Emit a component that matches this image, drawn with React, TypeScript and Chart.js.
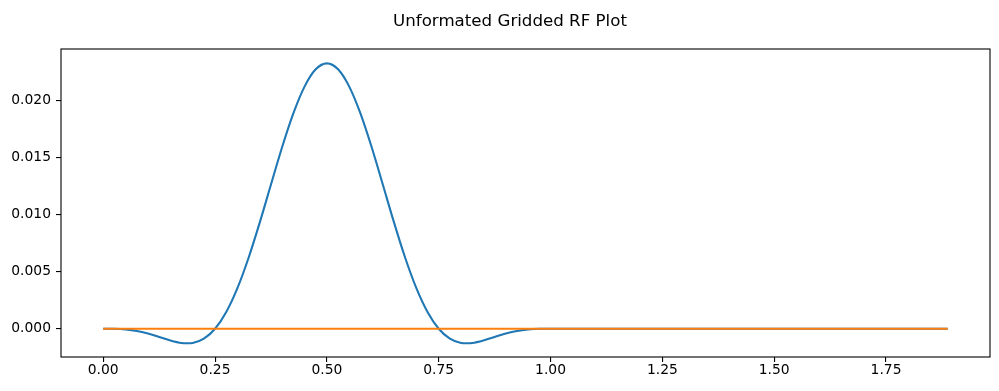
import React, { useEffect, useRef } from "react";
import { Chart, registerables } from "chart.js";

Chart.register(...registerables);

const chartTitle = "Unformated Gridded RF Plot";

// RF pulse (blue) sampled along x
const rfX = [
  0, 0.025, 0.05, 0.075, 0.1, 0.125, 0.15, 0.175, 0.1875, 0.2, 0.225, 0.25, 0.275, 0.3, 0.325, 0.35, 0.375, 0.4,
  0.425, 0.45, 0.475, 0.5, 0.525, 0.55, 0.575, 0.6, 0.625, 0.65, 0.675, 0.7, 0.725, 0.75, 0.775, 0.8, 0.8125,
  0.825, 0.85, 0.875, 0.9, 0.925, 0.95, 0.975, 1.0, 1.25, 1.5, 1.75, 1.888,
];
const rfY = [
  0, -0.000007, -0.000059, -0.000192, -0.000421, -0.000723, -0.001038, -0.001259, -0.00128, -0.001254, -0.000878,
  0, 0.001471, 0.003564, 0.006227, 0.009326, 0.01265, 0.01594, 0.01889, 0.02124, 0.02276, 0.02328,
  0.02276, 0.02124, 0.01889, 0.01594, 0.01265, 0.009326, 0.006227, 0.003564, 0.001471, 0,
  -0.000878, -0.001254, -0.00128, -0.001259, -0.001038, -0.000723, -0.000421, -0.000192, -0.000059, -0.000007, 0,
  0, 0, 0, 0,
];

// Gridded series (orange)
const gridX = [0, 1.888];
const gridY = [0, 0];

const xTicks = [0, 0.25, 0.5, 0.75, 1.0, 1.25, 1.5, 1.75];
const yTicks = [0, 0.005, 0.01, 0.015, 0.02];

const xMin = -0.0944;
const xMax = 1.9824;
const yMin = -0.00248;
const yMax = 0.02454;

const FONT = "'DejaVu Sans', sans-serif";

const framePlugin = {
  id: "frame",
  afterDraw(chart: any) {
    const { ctx, chartArea } = chart;
    ctx.save();
    ctx.strokeStyle = "#000";
    ctx.lineWidth = 1.1;
    ctx.strokeRect(chartArea.left, chartArea.top, chartArea.right - chartArea.left, chartArea.bottom - chartArea.top);
    // figure title (centred on the figure as in the original)
    ctx.fillStyle = "#000";
    ctx.font = `16.67px ${FONT}`;
    ctx.textAlign = "center";
    ctx.textBaseline = "alphabetic";
    ctx.fillText(chartTitle, 510, 26);
    ctx.restore();
  },
};

export default function App() {
  const canvasRef = useRef<HTMLCanvasElement | null>(null);

  useEffect(() => {
    document.body.style.margin = "0";
    const canvas = canvasRef.current;
    if (!canvas) return;
    const chart = new Chart(canvas, {
      type: "scatter",
      data: {
        datasets: [
          {
            label: "gridded",
            data: gridX.map((x, i) => ({ x, y: gridY[i] })),
            showLine: true,
            borderColor: "#ff7f0e",
            borderWidth: 2.08,
            pointRadius: 0,
            order: 0,
          },
          {
            label: "rf",
            data: rfX.map((x, i) => ({ x, y: rfY[i] })),
            showLine: true,
            borderColor: "#1f77b4",
            borderWidth: 2.08,
            pointRadius: 0,
            cubicInterpolationMode: "monotone",
            order: 1,
          },
        ],
      },
      options: {
        animation: false,
        responsive: true,
        maintainAspectRatio: false,
        layout: { padding: { left: 0, right: 9, top: 49, bottom: 0 } },
        plugins: {
          legend: { display: false },
          tooltip: { enabled: false },
          title: { display: false },
        },
        scales: {
          x: {
            type: "linear",
            min: xMin,
            max: xMax,
            afterBuildTicks: (scale: any) => {
              scale.ticks = xTicks.map((v) => ({ value: v }));
            },
            afterFit: (scale: any) => {
              scale.height = 34;
            },
            grid: { display: true, drawOnChartArea: false, drawTicks: true, tickLength: 5, color: "#000", lineWidth: 1.1 },
            border: { display: false },
            ticks: {
              autoSkip: false,
              maxRotation: 0,
              padding: 0,
              color: "#000",
              font: { family: FONT, size: 13.89 },
              callback: (v: any) => Number(v).toFixed(2),
            },
          },
          y: {
            type: "linear",
            min: yMin,
            max: yMax,
            afterBuildTicks: (scale: any) => {
              scale.ticks = yTicks.map((v) => ({ value: v }));
            },
            afterFit: (scale: any) => {
              scale.width = 61;
            },
            grid: { display: true, drawOnChartArea: false, drawTicks: true, tickLength: 5, color: "#000", lineWidth: 1.1 },
            border: { display: false },
            ticks: {
              autoSkip: false,
              padding: 5,
              color: "#000",
              font: { family: FONT, size: 13.89 },
              callback: (v: any) => Number(v).toFixed(3),
            },
          },
        },
      },
      plugins: [framePlugin],
    } as any);
    return () => chart.destroy();
  }, []);

  return (
    <div style={{ width: 999, height: 391, position: "relative", background: "#fff" }}>
      <canvas ref={canvasRef} />
    </div>
  );
}
